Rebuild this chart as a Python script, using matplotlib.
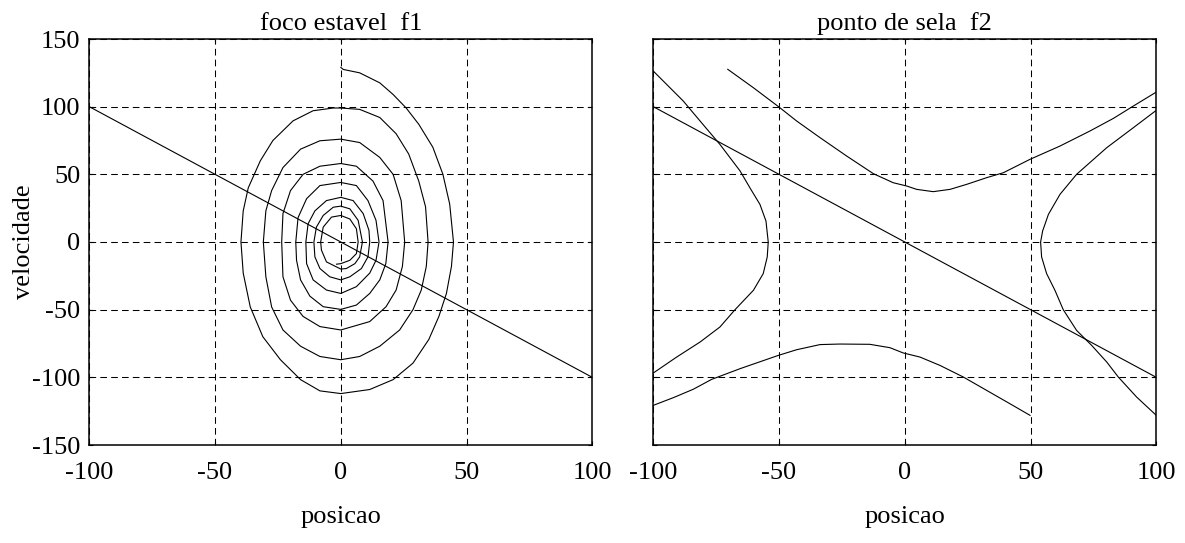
import matplotlib
matplotlib.use("Agg")
import matplotlib.pyplot as plt

plt.rcParams['font.family'] = ['Liberation Serif', 'DejaVu Serif']
plt.rcParams['lines.scale_dashes'] = False
plt.rcParams['axes.unicode_minus'] = False

# ---------------- data ----------------
x_ticks = [-100, -50, 0, 50, 100]
y_ticks = [-150, -100, -50, 0, 50, 100, 150]

# reference line v = -x (both panels)
line_x = [-100, 100]
line_v = [100, -100]

# left panel: spiral trajectory (stable focus)
spiral_x = [0, 1, 7.5, 15.5, 20.8, 26, 31, 36.6, 40.6, 43.3, 44.8, 44, 42, 39, 35, 28.7, 20.8, 11.5, 0,
            -8.3, -16, -24, -31, -36, -38.8, -39.7, -38.8, -36.8, -32, -27, -19, -11, -3, 0,
            7.5, 15.5, 22, 27, 31, 33.7, 34.7, 34, 32, 28.7, 23.4, 15.5, 7.5, 0,
            -8.3, -16, -23, -27.5, -29.8, -30.8, -29.8, -27.5, -23, -16, -8.3, 0,
            7.5, 15.5, 20.8, 24, 25.4, 24.5, 22, 18, 11.5, 0,
            -8.3, -15, -20, -23, -23.5, -23, -20, -15, -8.3, 0,
            6.2, 12.8, 16.8, 18.8, 17.9, 15.5, 11.5, 6.2, 0,
            -7, -12.3, -16, -17.6, -17.9, -17, -13.6, -8.3, 0,
            6.2, 10.8, 14, 15.2, 14, 11.5, 6.2, 0,
            -5.7, -11, -13.6, -13.9, -13, -10.3, -5.7, 0,
            4.9, 8.9, 11.2, 11.5, 10.8, 8.2, 3.6, 0,
            -4.4, -8.3, -10.3, -10.7, -9.7, -7, -3, 0,
            3.6, 6.9, 8.6, 7.5, 5.6, 2.2, 0,
            -5.7, -7.7, -8, -7, -3.7, 0,
            3.6, 6.2, 6.9, 6.2, 3.6, 0, -1.7]
spiral_v = [129, 127.5, 125, 117.6, 109, 99, 87, 70, 50, 28, 0, -18, -38, -55, -72, -89.5, -101.7, -109, -112,
            -110, -101.7, -87, -70, -48, -23, 0, 23, 40, 60, 75, 89.5, 97, 99, 99,
            98, 92, 80, 65, 45, 26, 0, -18, -35.5, -50, -65, -77, -84.6, -87,
            -84.6, -77, -65, -48, -25.7, 0, 23, 38, 55, 68.6, 74.8, 76,
            73.5, 62.5, 50, 30.6, 0, -18, -35.5, -47.8, -58.8, -65,
            -62.5, -55, -43, -25.7, 0, 21, 38, 50, 56, 58,
            56, 45, 30.6, 0, -16, -28, -38, -46.6, -49.8,
            -47.8, -40, -28, -13.5, 0, 18, 32, 41.7, 44,
            41.7, 30.6, 16, 0, -13.5, -23, -33, -38,
            -35.5, -28, -16, 0, 13.5, 23, 30.6, 33,
            30.6, 21, 8.6, 0, -11, -19.6, -25.7, -28,
            -25.7, -19.6, -11, 0, 11, 19.6, 25.7, 26.5,
            24.5, 16, 0, -11, -16, -19.6, -20,
            -14.7, -6, 0, 11, 18.4, 19.6,
            17, 9.8, 0, -8.6, -13.5, -16, -16.4]

# right panel: saddle point trajectories
sadA_x = [-70.4, -60.2, -50, -43, -33.7, -23.1, -12.5, -4.6, 0.7, 4.7, 11.3, 18, 24.6, 32.5, 39.2,
          49.8, 61.7, 73.6, 83, 90.9, 100]
sadA_v = [127.6, 114, 99.7, 89.4, 77.1, 63.5, 50.5, 43.8, 41.4, 38.9, 37.2, 38.9, 42.6, 47.5, 51.2,
          61.1, 70.9, 82, 91.4, 100.5, 110.8]

sadB_x = [-100, -88.1, -81.4, -73.5, -65.5, -61.6, -57.6, -55.2, -54.3, -54.7, -56.3, -60.2, -67.5,
          -73.5, -81.4, -90.7, -100]
sadB_v = [126.3, 104.2, 89.4, 72.1, 52.5, 40.1, 27.8, 15.5, 0, -11.1, -23.4, -35.7, -50,
          -62.8, -73.9, -85, -96.8]

sadC_x = [-100, -92, -84.1, -76.8, -65.5, -50.3, -43, -33.7, -25.8, -13.9, -5.9, -0.6, 6, 14, 23.3,
          32.5, 41.8, 49.8]
sadC_v = [-120.7, -115, -108.8, -101.5, -93.6, -83.8, -79.6, -75.8, -75.4, -75.6, -78.1, -82, -85,
          -91.2, -99.8, -109.6, -119.5, -128.1]

sadD_x = [100, 90.9, 80.3, 68.3, 61.7, 57.1, 54.8, 54, 54.4, 56.4, 59.7, 63, 68.3, 74.3, 80.3, 84.9,
          92.2, 100]
sadD_v = [97.3, 84.5, 69.7, 50, 35.2, 20.4, 8.1, 0, -11.1, -23.4, -35.7, -50, -65.3, -76.4, -88.7,
          -99.8, -114.6, -128.1]

titles = ["foco estavel  f1", "ponto de sela  f2"]
xlabel_text = "posicao"
ylabel_text = "velocidade"

# ---------------- figure ----------------
W, H = 1185, 543
fig = plt.figure(figsize=(W / 100, H / 100), dpi=100)
ax1 = fig.add_axes([89.3 / W, (H - 445) / H, 503 / W, 406 / H])
ax2 = fig.add_axes([653.3 / W, (H - 445) / H, 503 / W, 406 / H])

FS = 19
lw = 0.8

ax1.plot(line_x, line_v, color='black', lw=lw)
ax1.plot(spiral_x, spiral_v, color='black', lw=lw)

ax2.plot(line_x, line_v, color='black', lw=lw)
for xs, vs in [(sadA_x, sadA_v), (sadB_x, sadB_v), (sadC_x, sadC_v), (sadD_x, sadD_v)]:
    ax2.plot(xs, vs, color='black', lw=lw)

for i, ax in enumerate([ax1, ax2]):
    ax.set_xlim(-100, 100)
    ax.set_ylim(-150, 150)
    ax.set_xticks(x_ticks)
    ax.set_yticks(y_ticks)
    ax.grid(True, color='black', linewidth=0.75, linestyle=(0, (4.8, 3.0)))
    ax.tick_params(direction='in', length=3, width=0.8, top=True, right=True,
                   labelsize=FS, colors='black')
    ax.tick_params(axis='y', pad=6.5)
    ax.tick_params(axis='x', pad=12)
    for s in ax.spines.values():
        s.set_linewidth(1.1)
        s.set_color('black')
    ax.set_title(titles[i], fontsize=FS, pad=6.2)
    ax.set_xlabel(xlabel_text, fontsize=FS, labelpad=16)

ax1.set_ylabel(ylabel_text, fontsize=FS)
ax1.yaxis.set_label_coords(-0.107, 0.5)
ax2.set_yticklabels([])

fig.savefig("out.png", dpi=100)
